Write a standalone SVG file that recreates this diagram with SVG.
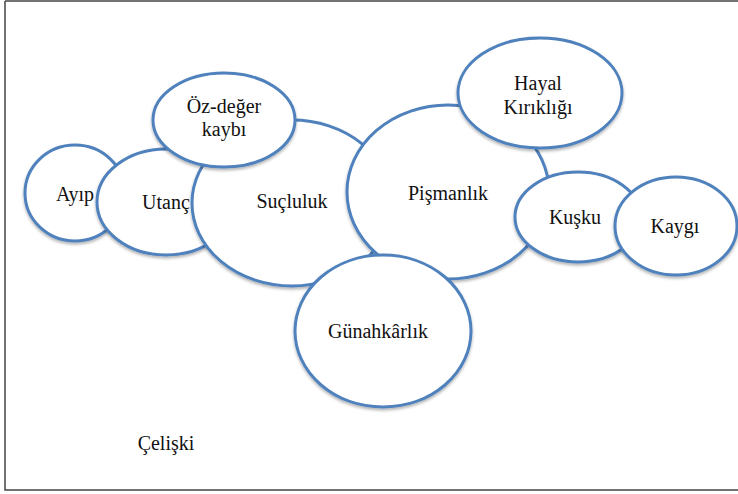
<svg xmlns="http://www.w3.org/2000/svg" width="738" height="494" viewBox="0 0 738 494">
<style>
.n ellipse{fill:#fff;stroke:#4F81BD;stroke-width:3;filter:url(#sh)}
text{font-family:'Liberation Serif','Times New Roman',serif;font-size:20px;fill:#111;text-anchor:middle}
</style>
<defs>
<filter id="sh" x="-10%" y="-10%" width="120%" height="130%">
<feDropShadow dx="0" dy="2" stdDeviation="1.5" flood-color="#000" flood-opacity="0.3"/>
</filter>
</defs>
<rect x="0" y="0" width="738" height="494" fill="#fff"/>
<g id="frame" fill="none" stroke="#444" stroke-width="1.5">
<path d="M5,1 H738 M5,1 V490 H738"/>
</g>
<g id="connectors"></g>
<g id="ayip" class="n"><ellipse cx="75" cy="193" rx="50" ry="48"/><text x="75" y="201">Ayıp</text></g>
<g id="utanc" class="n"><ellipse cx="166" cy="202" rx="69" ry="53"/><text x="166" y="209">Utanç</text></g>
<g id="sucluluk" class="n"><ellipse cx="292" cy="203" rx="100" ry="83"/><text x="292" y="208">Suçluluk</text></g>
<g id="ozdeger" class="n"><ellipse cx="224" cy="120" rx="71" ry="47"/><text x="224" y="113">Öz-değer</text><text x="224" y="136">kaybı</text></g>
<g id="pismanlik" class="n"><ellipse cx="448" cy="192" rx="101" ry="87"/><text x="448" y="200">Pişmanlık</text></g>
<g id="hayal" class="n"><ellipse cx="540" cy="93" rx="82" ry="55"/><text x="538" y="90">Hayal</text><text x="538" y="114">Kırıklığı</text></g>
<g id="kusku" class="n"><ellipse cx="578" cy="217" rx="63" ry="45"/><text x="575" y="224">Kuşku</text></g>
<g id="kaygi" class="n"><ellipse cx="676" cy="226" rx="61" ry="49"/><text x="675" y="233">Kaygı</text></g>
<g id="gunahkarlik" class="n"><ellipse cx="383" cy="331" rx="88" ry="76"/><text x="378" y="338">Günahkârlık</text></g>
<text x="166" y="450">Çelişki</text>
</svg>
